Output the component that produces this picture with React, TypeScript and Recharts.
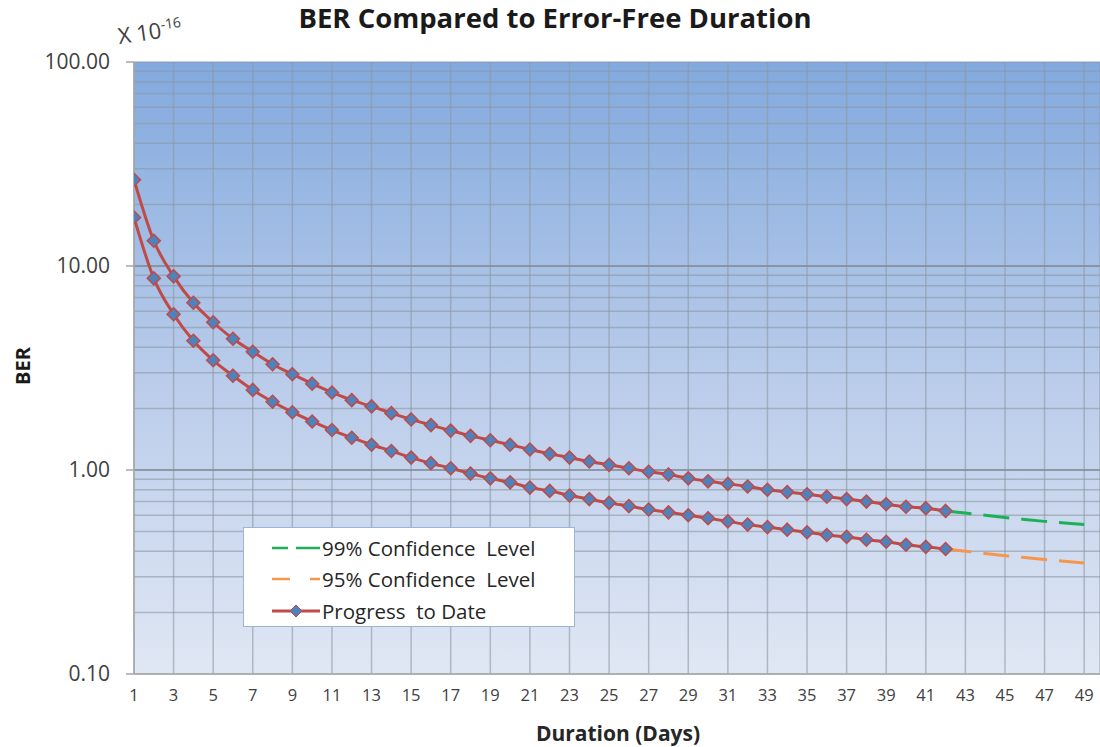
import React from "react";
import {
  LineChart,
  Line,
  XAxis,
  YAxis,
  CartesianGrid,
  ReferenceLine,
} from "recharts";

// days on the x axis
const days = [
  1, 2, 3, 4, 5, 6, 7, 8, 9, 10, 11, 12, 13, 14, 15, 16, 17, 18, 19, 20, 21, 22, 23, 24, 25,
  26, 27, 28, 29, 30, 31, 32, 33, 34, 35, 36, 37, 38, 39, 40, 41, 42, 43, 44, 45, 46, 47, 48, 49,
];
const xTicks = [
  1, 3, 5, 7, 9, 11, 13, 15, 17, 19, 21, 23, 25, 27, 29, 31, 33, 35, 37, 39, 41, 43, 45, 47, 49,
];

// progress to date (days 1..42), BER x 1e-16
const progress99 = [
  26.5, 13.3, 8.9, 6.6, 5.3, 4.4, 3.8, 3.3, 2.95, 2.65, 2.4, 2.2, 2.05, 1.9, 1.77, 1.66, 1.56,
  1.47, 1.4, 1.33, 1.26, 1.2, 1.15, 1.1, 1.06, 1.02, 0.98, 0.95, 0.91, 0.88, 0.855, 0.83, 0.8,
  0.78, 0.76, 0.74, 0.72, 0.7, 0.68, 0.66, 0.65, 0.63,
];
const progress95 = [
  17.3, 8.7, 5.8, 4.3, 3.45, 2.9, 2.47, 2.16, 1.92, 1.73, 1.57, 1.44, 1.33, 1.24, 1.15, 1.08,
  1.02, 0.96, 0.91, 0.87, 0.82, 0.79, 0.75, 0.72, 0.69, 0.665, 0.64, 0.62, 0.6, 0.58, 0.56,
  0.54, 0.525, 0.51, 0.495, 0.48, 0.47, 0.455, 0.445, 0.43, 0.42, 0.41,
];

// projections (days 42..49)
const projStart = 42;
const level99 = [0.63, 0.615, 0.6, 0.585, 0.572, 0.56, 0.55, 0.54];
const level95 = [0.41, 0.4, 0.39, 0.38, 0.372, 0.364, 0.357, 0.35];

const yTicks = [
  0.1, 0.2, 0.3, 0.4, 0.5, 0.6, 0.7, 0.8, 0.9, 1, 2, 3, 4, 5, 6, 7, 8, 9, 10, 20, 30, 40, 50,
  60, 70, 80, 90, 100,
];
const majorTicks = [0.1, 1, 10, 100];

const data = days.map((d, i) => ({
  day: d,
  p99: progress99[i],
  p95: progress95[i],
  c99: d >= projStart ? level99[d - projStart] : undefined,
  c95: d >= projStart ? level95[d - projStart] : undefined,
}));

const RED = "#BE4B48";
const BLUE = "#4F81BD";
const GREEN = "#1DB157";
const ORANGE = "#F7964A";
const FONT = "'Open Sans', Lato, sans-serif";

const Diamond = (props: any) => {
  const { cx, cy } = props;
  if (cx == null || cy == null) return null;
  const r = 6.5;
  return (
    <polygon
      points={`${cx},${cy - r} ${cx + r},${cy} ${cx},${cy + r} ${cx - r},${cy}`}
      fill={BLUE}
      stroke={RED}
      strokeWidth={1.5}
    />
  );
};

const YTick = (props: any) => {
  const { x, y, payload } = props;
  if (!majorTicks.includes(payload.value)) return null;
  return (
    <g>
      <line x1={x + 16} x2={x + 24} y1={y} y2={y} stroke="#A6A6A6" strokeWidth={1.5} />
      <text x={x} y={y} dy={7} textAnchor="end" fontSize={21} fill="#404040" fontFamily={FONT}>
        {payload.value.toFixed(2)}
      </text>
    </g>
  );
};

const legendItems = [
  { label: "99% Confidence  Level", kind: "dash", color: GREEN },
  { label: "95% Confidence  Level", kind: "dash2", color: ORANGE },
  { label: "Progress  to Date", kind: "solid", color: RED },
];

const LegendBox = () => (
  <div
    style={{
      position: "absolute",
      left: 243,
      top: 527,
      width: 332,
      height: 100,
      background: "#fff",
      border: "1px solid #9DB3D8",
      fontFamily: FONT,
      fontSize: 20.5,
      color: "#262626",
      boxSizing: "border-box",
      paddingTop: 4,
      whiteSpace: "pre",
    }}
  >
    {legendItems.map((it) => (
      <div key={it.label} style={{ display: "flex", alignItems: "center", height: 31.5 }}>
        <svg width={78} height={20}>
          {it.kind === "dash" && (
            <>
              <line x1={28} x2={44} y1={10} y2={10} stroke={it.color} strokeWidth={2.5} />
              <line x1={52} x2={76} y1={10} y2={10} stroke={it.color} strokeWidth={2.5} />
            </>
          )}
          {it.kind === "dash2" && (
            <>
              <line x1={28} x2={46} y1={10} y2={10} stroke={it.color} strokeWidth={2.5} />
              <line x1={66} x2={76} y1={10} y2={10} stroke={it.color} strokeWidth={2.5} />
            </>
          )}
          {it.kind === "solid" && (
            <>
              <line x1={28} x2={76} y1={10} y2={10} stroke={it.color} strokeWidth={3} />
              <polygon points="52,4 58,10 52,16 46,10" fill={BLUE} stroke={RED} strokeWidth={1} />
            </>
          )}
        </svg>
        <span>{it.label}</span>
      </div>
    ))}
  </div>
);

export default function App() {
  return (
    <div
      style={{
        position: "absolute",
        left: 0,
        top: 0,
        width: 1100,
        height: 747,
        overflow: "hidden",
        background: "#fff",
        fontFamily: FONT,
      }}
    >
      <LineChart
        width={1100}
        height={747}
        data={data}
        margin={{ top: 62, right: 0, bottom: 0, left: 0 }}
      >
        <defs>
          <linearGradient id="bgGrad" x1="0" y1="0" x2="0" y2="1">
            <stop offset="0%" stopColor="#82A9DE" />
            <stop offset="50%" stopColor="#B8CBEA" />
            <stop offset="100%" stopColor="#E0E7F4" />
          </linearGradient>
        </defs>
        <CartesianGrid
          fill="url(#bgGrad)"
          fillOpacity={1}
          stroke="#8E97A4"
          strokeOpacity={0.6}
          strokeWidth={1.5}
        />
        <XAxis
          type="number"
          dataKey="day"
          domain={[1, 49.8]}
          allowDataOverflow
          ticks={xTicks}
          interval={0}
          tickLine={false}
          tickSize={8}
          tickMargin={7}
          height={73}
          axisLine={{ stroke: "#A6A6A6", strokeWidth: 1.5 }}
          tick={{ fontSize: 16.5, fill: "#404040", fontFamily: FONT }}
        />
        <YAxis
          type="number"
          scale="log"
          domain={[0.1, 100]}
          allowDataOverflow
          ticks={yTicks}
          interval={0}
          width={134}
          tickLine={false}
          tickSize={8}
          tickMargin={16}
          axisLine={{ stroke: "#A6A6A6", strokeWidth: 1.5 }}
          tick={<YTick />}
        />
        <ReferenceLine y={1} stroke="#848C98" strokeWidth={1.5} />
        <ReferenceLine y={10} stroke="#848C98" strokeWidth={1.5} />
        <Line
          dataKey="c99"
          stroke={GREEN}
          strokeWidth={3}
          strokeDasharray="26 12"
          dot={false}
          isAnimationActive={false}
          connectNulls={false}
        />
        <Line
          dataKey="c95"
          stroke={ORANGE}
          strokeWidth={3}
          strokeDasharray="26 12"
          dot={false}
          isAnimationActive={false}
          connectNulls={false}
        />
        <Line
          type="monotone"
          dataKey="p99"
          stroke={RED}
          strokeWidth={3}
          dot={<Diamond />}
          isAnimationActive={false}
        />
        <Line
          type="monotone"
          dataKey="p95"
          stroke={RED}
          strokeWidth={3}
          dot={<Diamond />}
          isAnimationActive={false}
        />
      </LineChart>

      <LegendBox />

      <div
        style={{
          position: "absolute",
          top: -1,
          left: 0,
          width: 1110,
          textAlign: "center",
          fontSize: 27.5,
          fontWeight: 700,
          color: "#1a1a1a",
        }}
      >
        BER Compared to Error-Free Duration
      </div>
      <div
        style={{
          position: "absolute",
          left: 120,
          top: 20,
          fontSize: 22,
          color: "#404040",
          transform: "rotate(-8deg)",
          transformOrigin: "left bottom",
        }}
      >
        X 10<sup style={{ fontSize: 14 }}>-16</sup>
      </div>
      <div
        style={{
          position: "absolute",
          left: 22,
          top: 366,
          fontSize: 20,
          fontWeight: 700,
          color: "#1a1a1a",
          transform: "translate(-50%, -50%) rotate(-90deg)",
        }}
      >
        BER
      </div>
      <div
        style={{
          position: "absolute",
          left: 618,
          top: 733,
          fontSize: 21,
          fontWeight: 700,
          color: "#262626",
          transform: "translate(-50%, -50%)",
        }}
      >
        Duration (Days)
      </div>
    </div>
  );
}
